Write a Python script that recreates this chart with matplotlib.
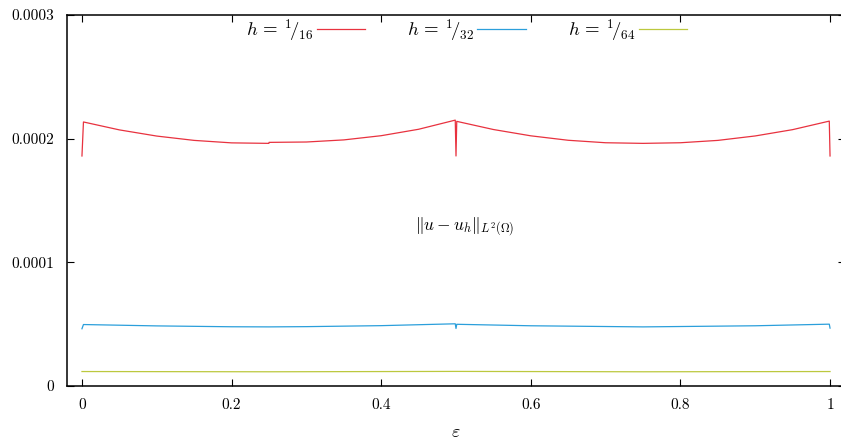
import numpy as np
import matplotlib
matplotlib.use('Agg')
import matplotlib.pyplot as plt

# values (error in units of 1e-6)
eps_red = [0.0, 0.002, 0.05, 0.1, 0.15, 0.2, 0.2499, 0.2501, 0.3, 0.35, 0.4, 0.45, 0.499,
           0.5, 0.501, 0.55, 0.6, 0.65, 0.7, 0.75, 0.8, 0.85, 0.9, 0.95, 0.999, 1.0]
err_red = [186.0, 213.5, 207.1, 202.1, 198.6, 196.6, 196.2, 197.0, 197.3, 199.0, 202.4, 207.6, 215.0,
           186.0, 214.0, 207.4, 202.3, 198.7, 196.7, 196.2, 196.7, 198.6, 202.2, 207.3, 214.2, 186.0]

eps_blue = [0.0, 0.002, 0.1, 0.2, 0.25, 0.3, 0.4, 0.499, 0.5, 0.501, 0.6, 0.75, 0.9, 0.999, 1.0]
err_blue = [46.3, 49.7, 48.6, 47.9, 47.8, 48.0, 48.8, 50.3, 46.5, 49.9, 48.7, 47.8, 48.7, 50.0, 46.8]

eps_green = [0.0, 0.25, 0.5, 0.75, 1.0]
err_green = [11.7, 11.5, 11.8, 11.5, 11.7]

labels = [r'$h\, =\, {}^{1}\!/_{16}$', r'$h\, =\, {}^{1}\!/_{32}$', r'$h\, =\, {}^{1}\!/_{64}$']
colors = ['#e8323f', '#2b9fdb', '#bcc83e']

xticks = [0, 0.2, 0.4, 0.6, 0.8, 1]
xtick_labels = ['0', '0.2', '0.4', '0.6', '0.8', '1']
yticks = [0, 0.0001, 0.0002, 0.0003]
ytick_labels = ['0', '0.0001', '0.0002', '0.0003']

plt.rcParams['font.family'] = 'serif'
plt.rcParams['font.serif'] = ['cmr10', 'DejaVu Serif']
plt.rcParams['mathtext.fontset'] = 'cm'
plt.rcParams['axes.unicode_minus'] = False

fig = plt.figure(figsize=(8.41, 4.44), dpi=100)
ax = fig.add_axes([67/841, 58/444, 778/841, 371/444])

for e, v, c, l in zip([eps_red, eps_blue, eps_green], [err_red, err_blue, err_green], colors, labels):
    ax.plot(e, np.array(v)*1e-6, color=c, lw=0.9, label=l)

ax.set_xlim(-0.02, 1.02)
ax.set_ylim(0, 0.0003)
ax.set_xticks(xticks)
ax.set_xticklabels(xtick_labels)
ax.set_yticks(yticks)
ax.set_yticklabels(ytick_labels)
ax.tick_params(direction='in', top=True, right=True, length=5, width=0.8,
               labelsize=11, pad=9)
for s in ax.spines.values():
    s.set_linewidth(1.1)
ax.spines['right'].set_visible(False)

ax.set_xlabel(r'$\varepsilon$', fontsize=13, labelpad=9)
ax.text(0.5116, 0.4286, r'$\Vert u - u_h\Vert_{L^2(\Omega)}$', transform=ax.transAxes,
        ha='center', va='center', fontsize=12.5)

ax.legend(loc='upper center', bbox_to_anchor=(0.514, 1.025), ncol=3, frameon=False,
          markerfirst=False, handlelength=2.6, handletextpad=0.15, columnspacing=2.25,
          fontsize=13.5, borderaxespad=0.2)

fig.savefig('out.png', dpi=100)
